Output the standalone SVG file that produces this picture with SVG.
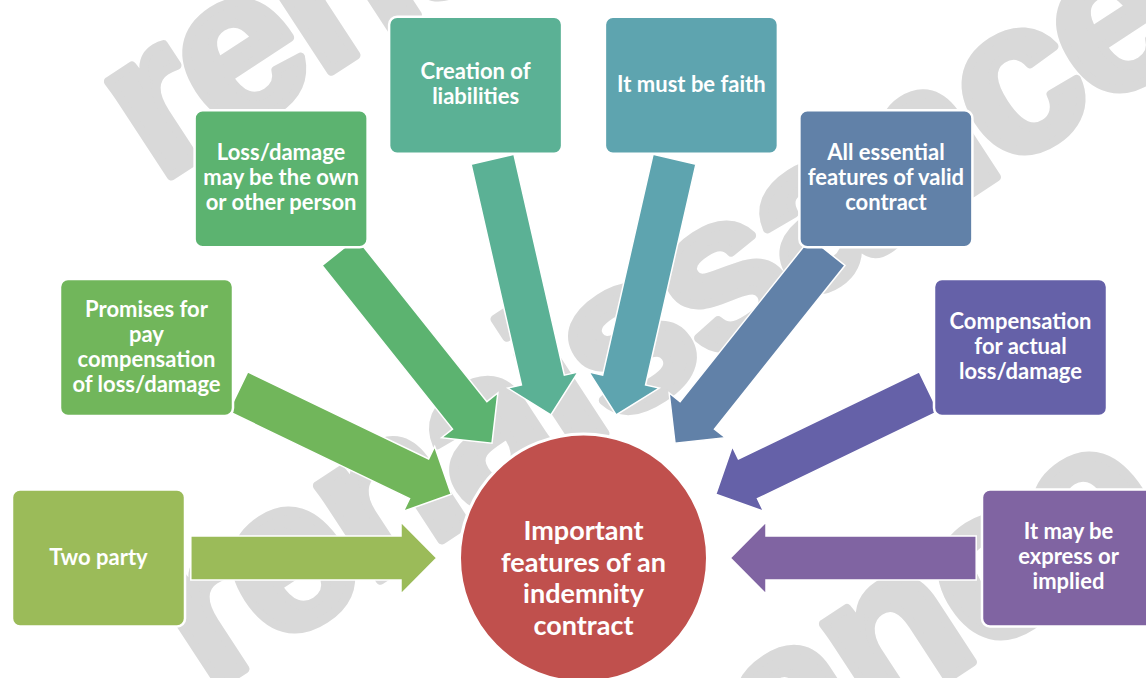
<svg xmlns="http://www.w3.org/2000/svg" width="1146" height="678" viewBox="0 0 1146 678">
  <style>
    .wm { font-family: "Liberation Sans", Arial, sans-serif; font-weight: bold; font-size: 215px; letter-spacing: -6px; fill: #d9d9d9; stroke: #d9d9d9; stroke-width: 9; stroke-linejoin: round; }
    .box { stroke: #ffffff; stroke-width: 2.5; }
    .arrow { stroke: #ffffff; stroke-width: 1.5; stroke-linejoin: miter; }
    .lbl { font-family: Lato, "Liberation Sans", sans-serif; font-weight: bold; font-size: 22px; fill: #ffffff; text-anchor: middle; }
    .hub { font-family: Lato, "Liberation Sans", sans-serif; font-weight: bold; font-size: 27px; fill: #ffffff; text-anchor: middle; }
  </style>
  <defs>
    <polygon id="arrowL0" points="-245.9,-22 -35.7,-22 -35.7,-36 0,0 -35.7,36 -35.7,22 -245.9,22"/>
    <polygon id="arrowL1" points="-236.5,-22 -35.7,-22 -35.7,-36 0,0 -35.7,36 -35.7,22 -236.5,22"/>
    <polygon id="arrowL2" points="-244.9,-22 -35.7,-22 -35.7,-36 0,0 -35.7,36 -35.7,22 -244.9,22"/>
    <polygon id="arrowL3" points="-262.2,-22 -35.7,-22 -35.7,-36 0,0 -35.7,36 -35.7,22 -262.2,22"/>
  </defs>
  <rect width="1146" height="678" fill="#ffffff"/>

  <g id="watermark">
    <text class="wm" transform="translate(158.7,184.2) rotate(-33.2)">renaissance</text>
    <text class="wm" transform="translate(207.7,693.2) rotate(-33.2)">renaissance</text>
    <text class="wm" transform="translate(183.7,1178.2) rotate(-33.2)">renaissance</text>
  </g>

  <g id="connectors">
    <use href="#arrowL0" class="arrow" fill="#9BBB59" transform="translate(583.5,558) rotate(0) translate(-146.8,0)"/>
    <use href="#arrowL1" class="arrow" fill="#71B65B" transform="translate(583.5,558) rotate(25.714) translate(-146.8,0)"/>
    <use href="#arrowL2" class="arrow" fill="#5CB370" transform="translate(583.5,558) rotate(51.429) translate(-146.8,0)"/>
    <use href="#arrowL3" class="arrow" fill="#5BB195" transform="translate(583.5,558) rotate(77.143) translate(-146.8,0)"/>
    <use href="#arrowL3" class="arrow" fill="#5EA4AF" transform="translate(583.5,558) rotate(102.857) translate(-146.8,0)"/>
    <use href="#arrowL2" class="arrow" fill="#6181A8" transform="translate(583.5,558) rotate(128.571) translate(-146.8,0)"/>
    <use href="#arrowL1" class="arrow" fill="#6561A8" transform="translate(583.5,558) rotate(154.286) translate(-146.8,0)"/>
    <use href="#arrowL0" class="arrow" fill="#8064A2" transform="translate(583.5,558) rotate(180) translate(-146.8,0)"/>
  </g>

  <g id="node-two-party">
    <rect class="box" x="12" y="489.5" width="173" height="137" rx="8" fill="#9BBB59"/>
    <text class="lbl" x="98.5" y="565">Two party</text>
  </g>
  <g id="node-promises">
    <rect class="box" x="60" y="279.1" width="173" height="137" rx="8" fill="#71B65B"/>
    <text class="lbl" x="146.5" y="316.5">Promises for</text>
    <text class="lbl" x="146.5" y="341.5">pay</text>
    <text class="lbl" x="146.5" y="366.5">compensation</text>
    <text class="lbl" x="146.5" y="391.5">of loss/damage</text>
  </g>
  <g id="node-loss">
    <rect class="box" x="194.6" y="110.3" width="173" height="137" rx="8" fill="#5CB370"/>
    <text class="lbl" x="281.1" y="160.2">Loss/damage</text>
    <text class="lbl" x="281.1" y="185.2">may be the own</text>
    <text class="lbl" x="281.1" y="210.2">or other person</text>
  </g>
  <g id="node-creation">
    <rect class="box" x="389.1" y="16.7" width="173" height="137" rx="8" fill="#5BB195"/>
    <text class="lbl" x="475.6" y="79.1">Creation of</text>
    <text class="lbl" x="475.6" y="104.1">liabilities</text>
  </g>
  <g id="node-faith">
    <rect class="box" x="604.9" y="16.7" width="173" height="137" rx="8" fill="#5EA4AF"/>
    <text class="lbl" x="691.4" y="91.6">It must be faith</text>
  </g>
  <g id="node-essential">
    <rect class="box" x="799.4" y="110.3" width="173" height="137" rx="8" fill="#6181A8"/>
    <text class="lbl" x="885.9" y="160.2">All essential</text>
    <text class="lbl" x="885.9" y="185.2">features of valid</text>
    <text class="lbl" x="885.9" y="210.2">contract</text>
  </g>
  <g id="node-compensation">
    <rect class="box" x="934" y="279.1" width="173" height="137" rx="8" fill="#6561A8"/>
    <text class="lbl" x="1020.5" y="329">Compensation</text>
    <text class="lbl" x="1020.5" y="354">for actual</text>
    <text class="lbl" x="1020.5" y="379">loss/damage</text>
  </g>
  <g id="node-express">
    <rect class="box" x="982" y="489.5" width="173" height="137" rx="8" fill="#8064A2"/>
    <text class="lbl" x="1068.5" y="539.4">It may be</text>
    <text class="lbl" x="1068.5" y="564.4">express or</text>
    <text class="lbl" x="1068.5" y="589.4">implied</text>
  </g>
  <g id="node-hub">
    <circle cx="583.5" cy="558" r="124" fill="#C0504D" stroke="#ffffff" stroke-width="3"/>
    <text class="hub" x="583.5" y="540">Important</text>
    <text class="hub" x="583.5" y="572">features of an</text>
    <text class="hub" x="583.5" y="603">indemnity</text>
    <text class="hub" x="583.5" y="635">contract</text>
  </g>
</svg>
